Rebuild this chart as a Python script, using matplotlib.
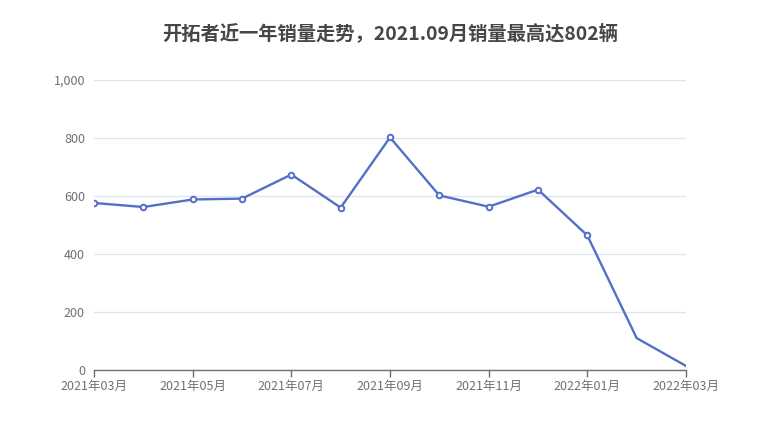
import matplotlib
matplotlib.use("Agg")
import matplotlib.pyplot as plt
from matplotlib.ticker import FuncFormatter

plt.rcParams['font.family'] = ['Noto Sans CJK SC', 'DejaVu Sans']

# 月份与销量
months = ['2021年03月', '2021年04月', '2021年05月', '2021年06月', '2021年07月',
          '2021年08月', '2021年09月', '2021年10月', '2021年11月', '2021年12月',
          '2022年01月', '2022年02月', '2022年03月']
sales = [576, 562, 588, 591, 674, 560, 802, 602, 563, 622, 464, 110, 14]
y_ticks = [0, 200, 400, 600, 800, 1000]
title = '开拓者近一年销量走势，2021.09月销量最高达802辆'

line_color = '#5470c6'
axis_color = '#6e7079'
grid_color = '#e0e6f1'

fig = plt.figure(figsize=(7.8, 4.4), dpi=100)
ax = fig.add_axes([94 / 780, 70 / 440, 592 / 780, 290 / 440])

x = list(range(len(months)))
ax.plot(x, sales, color=line_color, linewidth=1.7, zorder=3)
# 空心圆点（最后两个点较小）
ax.plot(x[:-2], sales[:-2], linestyle='none', marker='o', markersize=4,
        markerfacecolor='white', markeredgecolor=line_color,
        markeredgewidth=1.4, zorder=4)

ax.set_xlim(0, len(months) - 1)
ax.set_ylim(0, 1000)
ax.set_yticks(y_ticks)
ax.yaxis.set_major_formatter(FuncFormatter(lambda v, p: f'{int(v):,}'))
ax.set_xticks(x[::2])
ax.set_xticklabels(months[::2])

ax.grid(axis='y', color=grid_color, linewidth=1)
ax.set_axisbelow(True)
for side in ['top', 'right', 'left']:
    ax.spines[side].set_visible(False)
ax.spines['bottom'].set_color(axis_color)
ax.spines['bottom'].set_linewidth(1)

ax.tick_params(axis='y', length=0, pad=6.5, labelsize=9, labelcolor=axis_color)
ax.tick_params(axis='x', length=5, width=1, color=axis_color, pad=2,
               labelsize=9, labelcolor=axis_color)

fig.text(0.5, 1 - 33 / 440, title, ha='center', va='center',
         fontsize=13.9, fontweight='bold', color='#464646')

fig.savefig('out.png', dpi=100)
